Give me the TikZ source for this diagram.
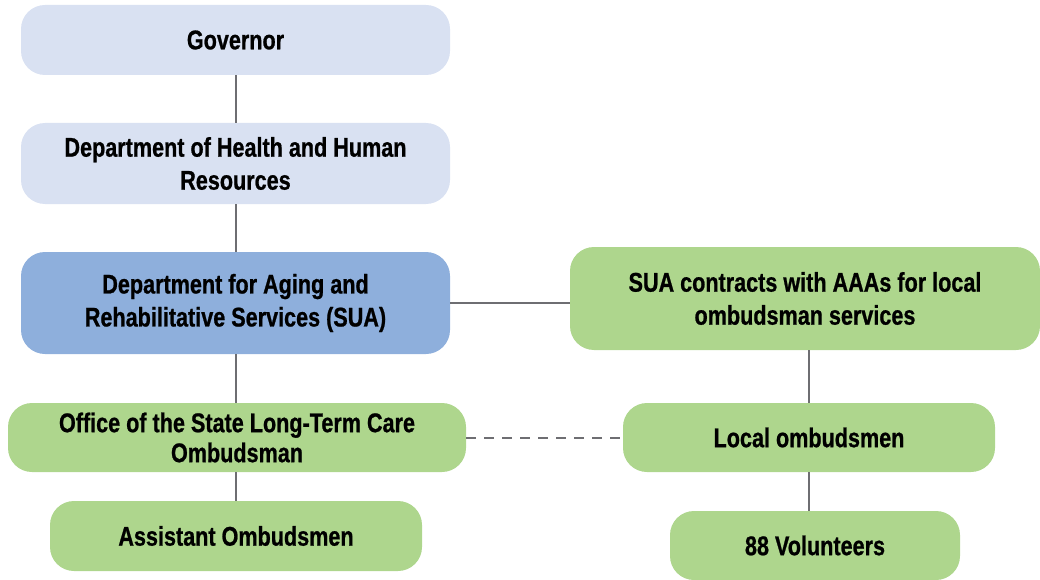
\documentclass[tikz,border=0pt]{standalone}
\usepackage{fontspec}
\setmainfont{Liberation Sans}[FakeStretch=0.8,BoldFeatures={FakeBold=0.8}]
\usetikzlibrary{positioning}
\definecolor{paleblue}{HTML}{D9E1F2}
\definecolor{suablue}{HTML}{8EAFDC}
\definecolor{ombgreen}{HTML}{AED68D}
\definecolor{linkgray}{HTML}{6E6E72}

\begin{document}
\begin{tikzpicture}[
                x=1pt, y=-1pt,
                orgbox/.style={rectangle, rounded corners=24pt, align=center, inner sep=0pt,
                  font=\fontsize{27}{33}\selectfont\bfseries},
                upper/.style={orgbox, fill=paleblue},
                agency/.style={orgbox, fill=suablue},
                local/.style={orgbox, fill=ombgreen},
                link/.style={draw=linkgray, line width=2pt},
                duallink/.style={link, dash pattern=on 10pt off 8pt},
            ]
            \useasboundingbox (0,0) rectangle (1040,580);

            % state side
            \node[upper, minimum width=429pt, minimum height=70pt] (GOV)  at (235.5, 40) {Governor};
            \node[upper, minimum width=429pt, minimum height=81pt] (DHHR) at (235.5,163.5) {Department of Health and Human\\Resources};
            \node[agency, minimum width=429pt, minimum height=102pt] (SUA) at (235.5,303) {Department for Aging and\\Rehabilitative Services (SUA)};
            \node[local, minimum width=458pt, minimum height=69pt] (OSLTC) at (237,437.5) {Office of the State Long-Term Care\\[-3pt]Ombudsman};
            \node[local, minimum width=372pt, minimum height=70pt] (ASST) at (236,536) {Assistant Ombudsmen};

            % local side
            \node[local, minimum width=470pt, minimum height=103pt] (AAA) at (805,298.5) {SUA contracts with AAAs for local\\ombudsman services};
            \node[local, minimum width=372pt, minimum height=69pt] (LOC) at (809,437.5) {Local ombudsmen};
            \node[local, minimum width=290pt, minimum height=69pt] (VOL) at (815,545.5) {88 Volunteers};

            \draw[link] (GOV) -- (DHHR);
            \draw[link] (DHHR) -- (SUA);
            \draw[link] (SUA.south) -- (SUA.south |- OSLTC.north);
            \draw[link] (SUA.south |- OSLTC.south) -- (SUA.south |- ASST.north);
            \draw[link] (SUA.east) -- (SUA.east -| AAA.west);
            \draw[link] (AAA.south -| LOC.north) -- (LOC.north);
            \draw[link] (LOC.south) -- (LOC.south |- VOL.north);
            \draw[duallink] (OSLTC.east) -- (LOC.west);
        \end{tikzpicture}
\end{document}
